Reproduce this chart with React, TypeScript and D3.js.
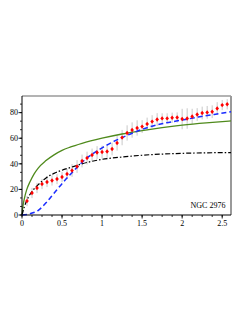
import React from "react";
import * as d3 from "d3";

// observed rotation curve (radius, velocity, error)
const obsR = [
  0.0625, 0.125, 0.1875, 0.25, 0.3125, 0.375, 0.4375, 0.5, 0.5625, 0.625,
  0.6875, 0.75, 0.8125, 0.875, 0.9375, 1.0, 1.0625, 1.125, 1.1875, 1.25,
  1.3125, 1.375, 1.4375, 1.5, 1.5625, 1.625, 1.6875, 1.75, 1.8125, 1.875,
  1.9375, 2.0, 2.0625, 2.125, 2.1875, 2.25, 2.3125, 2.375, 2.4375, 2.5, 2.5625,
];
const obsV = [
  10.9, 17.2, 21.1, 24.2, 25.8, 27.0, 28.1, 29.7, 32.0, 34.8, 37.9, 42.2, 44.5,
  46.9, 48.8, 49.2, 49.6, 51.6, 56.3, 60.5, 64.1, 66.4, 68.0, 69.1, 71.1, 73.0,
  74.6, 75.5, 75.5, 76.0, 76.2, 75.0, 75.4, 77.0, 78.5, 79.7, 80.2, 80.7, 83.2,
  85.9, 86.5,
];
const obsErr = [
  4, 4, 4, 4, 4, 4, 4, 4, 4, 5, 5, 5, 5, 5, 5, 5, 5, 5, 6, 6, 6, 6, 6, 5, 5, 5,
  5, 4, 4, 4, 4, 8, 8, 6, 5, 5, 5, 5, 5, 4, 4,
];

// model curves
const greenR = [0, 0.01, 0.03, 0.06, 0.1, 0.15, 0.2, 0.3, 0.4, 0.5, 0.6, 0.75, 1, 1.25, 1.5, 1.75, 2, 2.3, 2.61];
const greenV = [0, 6, 13, 20, 26, 32, 36.5, 42.5, 47, 50.5, 53, 56, 60, 63.3, 66, 68.3, 70.2, 72, 73.5];

const blueR = [0, 0.1, 0.2, 0.3, 0.4, 0.5, 0.6, 0.7, 0.8, 0.9, 1, 1.1, 1.25, 1.4, 1.6, 1.8, 2, 2.2, 2.4, 2.61];
const blueV = [0, 1, 3.5, 9.5, 17, 24.5, 31.5, 38, 44, 48.5, 52.5, 56, 60.5, 64.5, 69, 72, 74.2, 76.5, 78.6, 80.7];

const blackR = [0, 0.03, 0.08, 0.14, 0.2, 0.3, 0.4, 0.5, 0.6, 0.75, 1, 1.25, 1.5, 1.75, 2, 2.3, 2.61];
const blackV = [0, 6.5, 14, 19.5, 23.5, 29, 32.5, 35, 37, 40, 43.5, 45.3, 46.7, 47.6, 48.2, 48.6, 48.8];

const xTicks = [0, 0.5, 1, 1.5, 2, 2.5];
const xTickLabels = ["0", "0.5", "1", "1.5", "2", "2.5"];
const yTicks = [0, 20, 40, 60, 80];

const label = "NGC 2976";

export default function App() {
  const x = d3.scaleLinear().domain([0, 2.61]).range([22, 231]);
  const y = d3.scaleLinear().domain([0, 93]).range([215, 96]);

  const line = (rs: number[], vs: number[]) =>
    d3
      .line<number>()
      .x((d, i) => x(rs[i]))
      .y((d) => y(d))
      .curve(d3.curveMonotoneX)(vs) || "";

  const xMinor = d3.range(0, 2.61, 0.125);
  const yMinor = d3.range(0, 93, 20 / 3);
  const font = "Liberation Serif, Times New Roman, serif";

  return (
    <svg
      width={249}
      height={323}
      style={{ position: "fixed", left: 0, top: 0, background: "#fff" }}
    >
      {/* frame */}
      <line x1={x(0)} x2={x(2.61)} y1={y(93)} y2={y(93)} stroke="#9a9a9a" strokeWidth={1.5} />
      <line x1={x(2.61)} x2={x(2.61)} y1={y(93)} y2={y(0)} stroke="#9a9a9a" strokeWidth={2} />

      {/* error bars */}
      {obsR.map((r, i) => (
        <line
          key={"e" + i}
          x1={x(r)}
          x2={x(r)}
          y1={y(obsV[i] - obsErr[i])}
          y2={y(obsV[i] + obsErr[i])}
          stroke="#c8c8c8"
          strokeWidth={1}
        />
      ))}

      {/* model curves */}
      <path d={line(greenR, greenV)} fill="none" stroke="#4f8a1c" strokeWidth={1.3} />
      <path d={line(blackR, blackV)} fill="none" stroke="#000" strokeWidth={1.2} strokeDasharray="5,2,1.5,2" />
      <path d={line(blueR, blueV)} fill="none" stroke="#1a2cff" strokeWidth={1.5} strokeDasharray="5,3" />

      {/* data points */}
      {obsR.map((r, i) => {
        const cx = x(r);
        const cy = y(obsV[i]);
        return (
          <path
            key={"p" + i}
            d={`M${cx},${cy - 2.2}L${cx + 1.8},${cy}L${cx},${cy + 2.2}L${cx - 1.8},${cy}Z`}
            fill="#ff0000"
          />
        );
      })}

      {/* axes */}
      <line x1={x(0)} x2={x(2.61)} y1={y(0)} y2={y(0)} stroke="#000" strokeWidth={1} />
      <line x1={x(0)} x2={x(0)} y1={y(0)} y2={y(93)} stroke="#000" strokeWidth={1} />
      {xMinor.map((t, i) => (
        <line key={"xm" + i} x1={x(t)} x2={x(t)} y1={y(0)} y2={y(0) + 2} stroke="#000" strokeWidth={0.8} />
      ))}
      {xTicks.map((t, i) => (
        <g key={"xt" + i}>
          <line x1={x(t)} x2={x(t)} y1={y(0)} y2={y(0) + 3.5} stroke="#000" strokeWidth={0.9} />
          <text x={x(t)} y={y(0) + 11} fontSize={8} fontFamily={font} textAnchor="middle" fill="#000">
            {xTickLabels[i]}
          </text>
        </g>
      ))}
      {yMinor.map((t, i) => (
        <line key={"ym" + i} x1={x(0) - 2} x2={x(0)} y1={y(t)} y2={y(t)} stroke="#000" strokeWidth={0.8} />
      ))}
      {yTicks.map((t, i) => (
        <g key={"yt" + i}>
          <line x1={x(0) - 3.5} x2={x(0)} y1={y(t)} y2={y(t)} stroke="#000" strokeWidth={0.9} />
          <text x={x(0) - 4} y={y(t) + 2.8} fontSize={8} fontFamily={font} textAnchor="end" fill="#000">
            {t}
          </text>
        </g>
      ))}

      <text x={208} y={207.5} fontSize={8} fontFamily={font} textAnchor="middle" fill="#000">
        {label}
      </text>
    </svg>
  );
}
